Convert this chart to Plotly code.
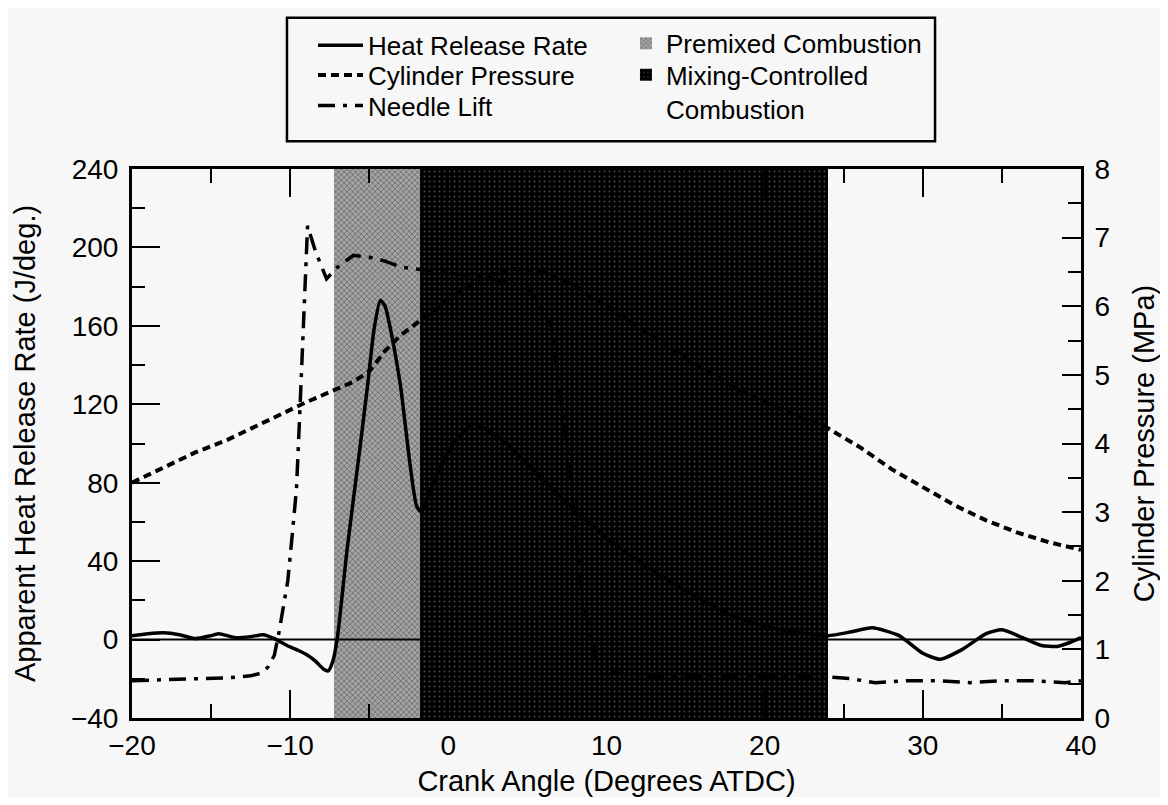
import plotly.graph_objects as go

# ---------------- data ----------------
hrr_angle = [-20, -19, -18, -17, -16, -15, -14.5, -13.5, -12.5, -11.7, -11, -10.2, -9.5, -9, -8.4,
             -7.9, -7.6, -7.3, -7.0, -6.4, -5.6, -5.1, -4.7, -4.3, -4.0, -3.7, -3.3, -3.0, -2.7,
             -2.4, -2.0, -1.7, -1.2, 0, 1.5, 3, 5, 8, 10, 12, 15, 18, 21, 24, 25.5, 26.8, 28.5,
             30, 31.1, 32.5, 34, 35, 36.3, 37.5, 38.5, 39.3, 40]
hrr_value = [2, 3, 3.5, 2.5, 0.5, 2, 3, 1, 1.5, 2.5, 0.5, -3, -5.5, -7.5, -11,
             -15, -16, -11, 2, 46, 97, 130, 158, 173, 170, 160, 143, 128, 108,
             88, 68, 65, 75, 96, 110, 104, 90, 66, 52, 40, 25, 12, 5, 2, 4, 6, 2,
             -7, -10, -5, 3, 5, 1, -3, -3.5, -1.5, 1]

pressure_angle = [-20, -18, -16, -14, -12, -10, -9, -8, -7, -6, -5, -4, -3, -2, 0, 2, 4, 6, 8,
                  10, 13, 16, 19, 22, 24, 26, 28, 30, 32, 34, 36, 38, 40]
pressure_value = [3.43, 3.65, 3.87, 4.05, 4.27, 4.5, 4.6, 4.7, 4.8, 4.9, 5.05, 5.35, 5.58, 5.75,
                  6.1, 6.4, 6.55, 6.5, 6.3, 6.0, 5.55, 5.1, 4.7, 4.4, 4.22, 3.95, 3.63, 3.36,
                  3.1, 2.88, 2.7, 2.56, 2.45]

needle_angle = [-20, -18, -16, -14, -12.5, -11.8, -11.4, -11.0, -10.7, -10.15, -9.85, -9.6, -9.4,
                -9.2, -9.0, -8.9, -8.4, -7.7, -7.0, -6.0, -5.0, -4.0, -3.0, -2.0, 2, 5, 6.5,
                7.5, 8.5, 9.5, 12, 18, 24, 25.5, 27, 29, 31, 33, 35, 37, 39, 40]
needle_value = [-21, -20.5, -20, -19.5, -18.5, -17, -14, -8, 4, 30, 55, 77, 114,
                150, 195, 211, 198, 184, 190, 196, 195, 193, 190, 189, 185, 180, 160,
                100, 20, -15, -19, -19, -19, -20, -22, -21, -21, -22, -21, -21, -22, -21]

premixed_start, premixed_end = -7.2, -1.8
mixing_start, mixing_end = -1.8, 24.0

x_range = [-20, 40]
hrr_range = [-40, 240]
pressure_range = [0, 8]
x_ticks = [-20, -10, 0, 10, 20, 30, 40]
hrr_ticks = [-40, 0, 40, 80, 120, 160, 200, 240]
pressure_ticks = [0, 1, 2, 3, 4, 5, 6, 7, 8]

# ---------------- figure ----------------
FONT = "Liberation Sans, Arial, Helvetica, sans-serif"
BG = "#f7f7f7"
LEG_FONT = dict(family=FONT, size=26, color="black")

fig = go.Figure()

band_height = hrr_range[1] - hrr_range[0]
fig.add_trace(go.Bar(
    x=[(premixed_start + premixed_end) / 2], y=[band_height], base=[hrr_range[0]],
    width=[premixed_end - premixed_start], name="Premixed Combustion",
    marker=dict(color="#8e8e8e", line=dict(width=0),
                pattern=dict(shape="x", fgcolor="#2a2a2a", bgcolor="#a4a4a4", size=4, solidity=0.35)),
    legend="legend2", hoverinfo="skip"))
fig.add_trace(go.Bar(
    x=[(mixing_start + mixing_end) / 2], y=[band_height], base=[hrr_range[0]],
    width=[mixing_end - mixing_start], name="Mixing-Controlled<br>Combustion",
    marker=dict(color="#000000", line=dict(width=0),
                pattern=dict(shape=".", fgcolor="#8c8c8c", bgcolor="#000000", size=5, solidity=0.12)),
    legend="legend5", hoverinfo="skip"))

fig.add_trace(go.Scatter(
    x=hrr_angle, y=hrr_value, mode="lines", name="Heat Release Rate",
    line=dict(color="black", width=3.5, shape="spline", smoothing=0.6), legend="legend"))
fig.add_trace(go.Scatter(
    x=pressure_angle, y=pressure_value, mode="lines", name="Cylinder Pressure", yaxis="y2",
    line=dict(color="black", width=4, dash="8px,5px"), legend="legend3"))
fig.add_trace(go.Scatter(
    x=needle_angle, y=needle_value, mode="lines", name="Needle Lift",
    line=dict(color="black", width=3.5, dash="17px,8px,4px,8px"), legend="legend4"))

# zero reference line
fig.add_shape(type="line", xref="paper", x0=0, x1=1, yref="y", y0=0, y1=0,
              line=dict(color="black", width=2), layer="above")
# legend frame
fig.add_shape(type="rect", xref="paper", yref="paper", x0=0.1633, x1=0.8462, y0=1.0505, y1=1.2757,
              line=dict(color="black", width=2.5), fillcolor="rgba(0,0,0,0)")

axis_common = dict(showline=True, linecolor="black", linewidth=3, ticks="inside",
                   tickcolor="black", tickwidth=2, showgrid=False, zeroline=False,
                   tickfont=dict(family=FONT, size=28, color="black"), automargin=False)

def leg(x, y, yanchor="middle", **kw):
    return dict(x=x, y=y, xanchor="left", yanchor=yanchor, bgcolor="rgba(0,0,0,0)",
                borderwidth=0, font=LEG_FONT, **kw)

fig.update_layout(
    width=1152, height=789,
    margin=dict(l=124, r=79, t=155, b=79),
    paper_bgcolor=BG, plot_bgcolor=BG,
    barmode="overlay", bargap=0,
    font=dict(family=FONT, color="black"),
    xaxis=dict(range=x_range, tickvals=x_ticks, ticklen=28, mirror="ticks",
               minor=dict(dtick=5, ticks="inside", ticklen=14, tickwidth=2, tickcolor="black"),
               ticklabelstandoff=0,
               title=dict(text="Crank Angle (Degrees ATDC)", font=dict(family=FONT, size=29), standoff=14),
               **axis_common),
    yaxis=dict(range=hrr_range, tickvals=hrr_ticks, ticklen=28,
               minor=dict(dtick=20, ticks="inside", ticklen=13, tickwidth=2, tickcolor="black"),
               ticklabelstandoff=5,
               title=dict(text="Apparent Heat Release Rate (J/deg.)", font=dict(family=FONT, size=29), standoff=27),
               **axis_common),
    yaxis2=dict(range=pressure_range, tickvals=pressure_ticks, ticklen=19, overlaying="y", side="right",
                minor=dict(dtick=0.5, ticks="inside", ticklen=13, tickwidth=2, tickcolor="black"),
                ticklabelstandoff=5,
                title=dict(text="Cylinder Pressure (MPa)", font=dict(family=FONT, size=29), standoff=26),
                **axis_common),
    legend=leg(0.1907, 1.2252, itemwidth=45),
    legend3=leg(0.1907, 1.1712, itemwidth=45),
    legend4=leg(0.1907, 1.1153, itemwidth=45),
    legend2=leg(0.5205, 1.2288),
    legend5=leg(0.5205, 1.1405, valign="top"),
    showlegend=True,
)

fig.write_html("out.html")
